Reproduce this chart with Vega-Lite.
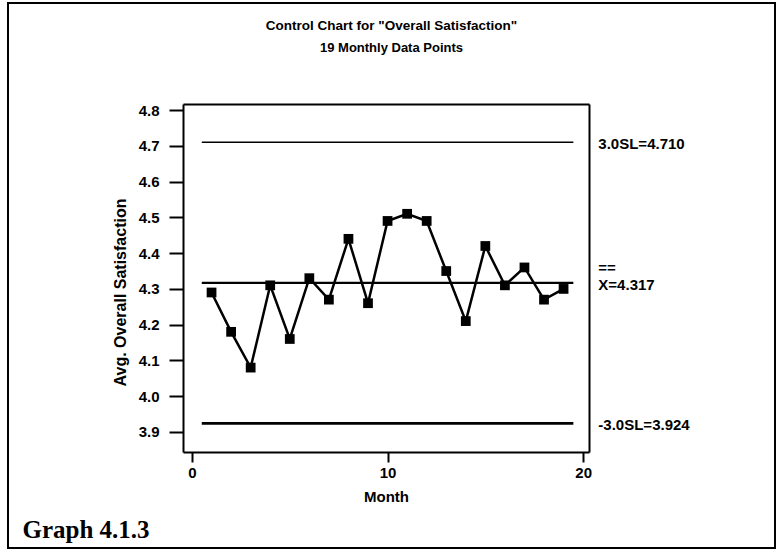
{
  "$schema": "https://vega.github.io/schema/vega-lite/v6.json",
  "autosize": "none",
  "width": 767,
  "height": 545,
  "padding": {"left": 8, "top": 3, "right": 8, "bottom": 6},
  "background": "white",
  "title": {
    "text": "Control Chart for \"Overall Satisfaction\"",
    "subtitle": "19 Monthly Data Points",
    "anchor": "middle",
    "frame": "group",
    "offset": -52,
    "font": "Liberation Sans, Arial, sans-serif",
    "fontSize": 13.5,
    "fontWeight": "bold",
    "color": "black",
    "subtitleFont": "Liberation Sans, Arial, sans-serif",
    "subtitleFontSize": 13,
    "subtitleFontWeight": "bold",
    "subtitleColor": "black",
    "subtitlePadding": 10
  },
  "datasets": {
    "points": [
      {"month": 1, "sat": 4.29},
      {"month": 2, "sat": 4.18},
      {"month": 3, "sat": 4.08},
      {"month": 4, "sat": 4.31},
      {"month": 5, "sat": 4.16},
      {"month": 6, "sat": 4.33},
      {"month": 7, "sat": 4.27},
      {"month": 8, "sat": 4.44},
      {"month": 9, "sat": 4.26},
      {"month": 10, "sat": 4.49},
      {"month": 11, "sat": 4.51},
      {"month": 12, "sat": 4.49},
      {"month": 13, "sat": 4.35},
      {"month": 14, "sat": 4.21},
      {"month": 15, "sat": 4.42},
      {"month": 16, "sat": 4.31},
      {"month": 17, "sat": 4.36},
      {"month": 18, "sat": 4.27},
      {"month": 19, "sat": 4.30}
    ],
    "limits": [
      {"limit": "UCL", "value": 4.710, "xstart": 0.5, "xend": 19.5, "label": "3.0SL=4.710", "bar": ""},
      {"limit": "Mean", "value": 4.317, "xstart": 0.5, "xend": 19.5, "label": "X=4.317", "bar": "=="},
      {"limit": "LCL", "value": 3.924, "xstart": 0.5, "xend": 19.5, "label": "-3.0SL=3.924", "bar": ""}
    ]
  },
  "layer": [
    {
      "data": {"name": "points"},
      "mark": {"type": "line", "color": "black", "strokeWidth": 2.5},
      "encoding": {
        "x": {
          "field": "month", "type": "quantitative",
          "scale": {"domain": [-0.46, 20.3], "range": [175, 581], "nice": false, "zero": false},
          "axis": {
            "orient": "bottom", "offset": -96, "values": [0, 10, 20], "tickSize": 10,
            "labelPadding": 3, "labelFontSize": 15, "labelFontWeight": "bold",
            "title": "Month", "titlePadding": 9, "titleFontSize": 15, "titleFontWeight": "bold"
          }
        },
        "y": {
          "field": "sat", "type": "quantitative",
          "scale": {"domain": [3.844, 4.817], "range": [449, 101], "nice": false, "zero": false},
          "axis": {
            "orient": "left", "offset": -175, "values": [3.9, 4.0, 4.1, 4.2, 4.3, 4.4, 4.5, 4.6, 4.7, 4.8],
            "format": ".1f", "tickSize": 14, "labelPadding": 10, "labelFontSize": 15, "labelFontWeight": "bold",
            "title": "Avg. Overall Satisfaction", "titlePadding": 10, "titleFontSize": 16, "titleFontWeight": "bold",
            "titleY": 289
          }
        }
      }
    },
    {
      "data": {"name": "points"},
      "mark": {"type": "point", "shape": "square", "filled": true, "color": "black", "size": 95, "opacity": 1},
      "encoding": {
        "x": {"field": "month", "type": "quantitative", "axis": null},
        "y": {"field": "sat", "type": "quantitative", "axis": null}
      }
    },
    {
      "data": {"name": "limits"},
      "mark": {"type": "rule", "color": "black"},
      "encoding": {
        "x": {
          "field": "xstart", "type": "quantitative",
          "axis": {"orient": "top", "offset": -101, "ticks": false, "labels": false, "title": null}
        },
        "x2": {"field": "xend"},
        "y": {
          "field": "value", "type": "quantitative",
          "axis": {
            "orient": "right", "offset": -186, "ticks": false, "labels": false,
            "title": "Graph 4.1.3", "titleAngle": 0, "titleX": -567, "titleY": 534,
            "titleAlign": "left", "titleBaseline": "alphabetic",
            "titleFont": "Liberation Serif, DejaVu Serif, serif", "titleFontSize": 25, "titleFontWeight": "bold"
          }
        },
        "strokeWidth": {
          "field": "limit", "type": "nominal",
          "scale": {"domain": ["UCL", "Mean", "LCL"], "range": [1.6, 2.6, 2.2]},
          "legend": null
        }
      }
    },
    {
      "data": {"name": "limits"},
      "mark": {"type": "text", "align": "left", "baseline": "middle", "dx": 25, "dy": 2,
               "fontSize": 15, "fontWeight": "bold", "color": "black"},
      "encoding": {
        "x": {"field": "xend", "type": "quantitative", "axis": null},
        "y": {"field": "value", "type": "quantitative", "axis": null},
        "text": {"field": "label"}
      }
    },
    {
      "data": {"name": "limits"},
      "mark": {"type": "text", "align": "left", "baseline": "middle", "dx": 25, "dy": -15,
               "fontSize": 15, "fontWeight": "bold", "color": "black"},
      "encoding": {
        "x": {"field": "xend", "type": "quantitative", "axis": null},
        "y": {"field": "value", "type": "quantitative", "axis": null},
        "text": {"field": "bar"}
      }
    }
  ],
  "resolve": {"axis": {"x": "independent", "y": "independent"}},
  "config": {
    "font": "Liberation Sans, Arial, sans-serif",
    "view": {"stroke": "black", "strokeWidth": 2},
    "axis": {
      "grid": false,
      "domainColor": "black", "domainWidth": 2,
      "tickColor": "black", "tickWidth": 2,
      "labelColor": "black", "titleColor": "black",
      "labelFont": "Liberation Sans, Arial, sans-serif",
      "titleFont": "Liberation Sans, Arial, sans-serif"
    },
    "text": {"font": "Liberation Sans, Arial, sans-serif"}
  }
}
